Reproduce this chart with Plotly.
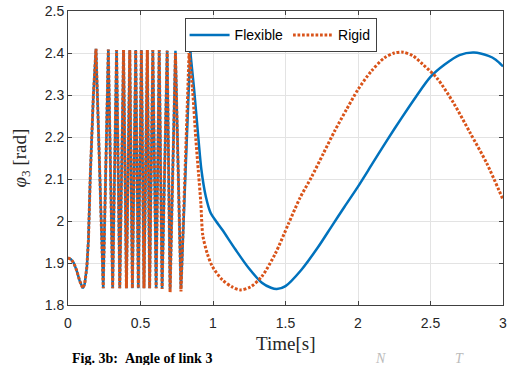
import plotly.graph_objects as go

# ---- data ----
flex_osc_t = [0.0, 0.02, 0.04, 0.06, 0.08, 0.092, 0.102, 0.115, 0.13, 0.141, 0.153, 0.175, 0.193,
              0.243, 0.278, 0.308, 0.335, 0.357, 0.383, 0.403, 0.426, 0.444, 0.467, 0.485, 0.506,
              0.524, 0.547, 0.563, 0.585, 0.608, 0.629, 0.649, 0.684, 0.704, 0.741, 0.779, 0.843]
flex_osc_v = [1.912, 1.909, 1.900, 1.882, 1.858, 1.845, 1.840, 1.850, 1.890, 1.955, 2.100, 2.300, 2.410,
              1.840, 2.408, 1.840, 2.407, 1.840, 2.407, 1.840, 2.407, 1.840, 2.407, 1.840, 2.407,
              1.840, 2.407, 1.840, 2.407, 1.840, 2.407, 1.840, 2.406, 1.838, 2.405, 1.838, 2.405]

flex_tail_t = [0.843, 0.870, 0.900, 0.920, 0.950, 0.984, 1.020, 1.064, 1.155, 1.246, 1.337, 1.400,
               1.440, 1.500, 1.610, 1.725, 1.816, 1.907, 2.000, 2.100, 2.200, 2.300, 2.400,
               2.500, 2.600, 2.700, 2.800, 2.900, 2.950, 3.000]
flex_tail_v = [2.405, 2.312, 2.194, 2.122, 2.059, 2.019, 2.000, 1.979, 1.932, 1.888, 1.853, 1.841,
               1.838, 1.845, 1.884, 1.938, 1.986, 2.034, 2.082, 2.137, 2.192, 2.245, 2.296,
               2.343, 2.373, 2.395, 2.401, 2.393, 2.384, 2.368]

rigid_osc_t = [0.0, 0.02, 0.04, 0.06, 0.08, 0.092, 0.102, 0.115, 0.13, 0.141, 0.153, 0.175, 0.193,
               0.243, 0.278, 0.308, 0.335, 0.357, 0.383, 0.403, 0.426, 0.444, 0.467, 0.485, 0.506,
               0.524, 0.547, 0.563, 0.585, 0.608, 0.629, 0.649, 0.684, 0.704, 0.741, 0.779, 0.835]
rigid_osc_v = [1.912, 1.909, 1.900, 1.882, 1.858, 1.845, 1.840, 1.850, 1.890, 1.955, 2.100, 2.300, 2.410,
               1.840, 2.408, 1.840, 2.407, 1.840, 2.407, 1.840, 2.407, 1.840, 2.407, 1.840, 2.407,
               1.840, 2.407, 1.840, 2.407, 1.840, 2.407, 1.838, 2.405, 1.830, 2.400, 1.832, 2.400]

rigid_tail_t = [0.835, 0.859, 0.882, 0.900, 0.916, 0.930, 0.961, 0.995, 1.064, 1.132, 1.189, 1.258,
                1.337, 1.429, 1.520, 1.600, 1.680, 1.760, 1.840, 1.920, 2.000, 2.090, 2.180, 2.250,
                2.310, 2.380, 2.450, 2.545, 2.659, 2.773, 2.887, 3.000]
rigid_tail_v = [2.400, 2.312, 2.194, 2.114, 2.043, 1.965, 1.922, 1.892, 1.860, 1.843, 1.836, 1.843,
                1.868, 1.922, 1.993, 2.055, 2.105, 2.160, 2.215, 2.265, 2.313, 2.356, 2.388, 2.400,
                2.402, 2.393, 2.372, 2.340, 2.281, 2.210, 2.138, 2.051]

x_ticks = [0, 0.5, 1, 1.5, 2, 2.5, 3]
x_tick_text = ["0", "0.5", "1", "1.5", "2", "2.5", "3"]
y_ticks = [1.8, 1.9, 2.0, 2.1, 2.2, 2.3, 2.4, 2.5]
y_tick_text = ["1.8", "1.9", "2", "2.1", "2.2", "2.3", "2.4", "2.5"]

BLUE = "#0072BD"
ORANGE = "#D95319"
SERIF = "Liberation Serif, Times New Roman"
SANS = "Liberation Sans, Arial"

fig = go.Figure()
fig.add_trace(go.Scatter(x=flex_osc_t, y=flex_osc_v, mode="lines", name="Flexible",
                         legendgroup="f", line=dict(color=BLUE, width=2.5)))
fig.add_trace(go.Scatter(x=flex_tail_t, y=flex_tail_v, mode="lines", name="Flexible",
                         legendgroup="f", showlegend=False,
                         line=dict(color=BLUE, width=2.5, shape="spline", smoothing=0.8)))
fig.add_trace(go.Scatter(x=rigid_osc_t, y=rigid_osc_v, mode="lines", name="Rigid",
                         legendgroup="r", line=dict(color=ORANGE, width=3, dash="2.7px,1.8px")))
fig.add_trace(go.Scatter(x=rigid_tail_t, y=rigid_tail_v, mode="lines", name="Rigid",
                         legendgroup="r", showlegend=False,
                         line=dict(color=ORANGE, width=3, dash="2.7px,1.8px",
                                   shape="spline", smoothing=0.8)))

axis_common = dict(showline=True, linecolor="#404040", linewidth=1, mirror="ticks",
                   ticks="inside", ticklen=4, tickcolor="#404040",
                   showgrid=True, gridcolor="#E3E3E3", gridwidth=1, zeroline=False,
                   ticklabeloverflow="allow",
                   tickfont=dict(family=SANS, size=14, color="#262626"))

fig.update_xaxes(range=[0, 3], tickvals=x_ticks, ticktext=x_tick_text,
                 ticklabelstandoff=5, **axis_common)
fig.update_yaxes(range=[1.8, 2.5], tickvals=y_ticks, ticktext=y_tick_text, **axis_common)

fig.update_layout(
    width=510, height=365,
    margin=dict(l=68, r=3, t=11, b=60),
    paper_bgcolor="white", plot_bgcolor="white",
    showlegend=True,
    legend=dict(orientation="h", x=0.268, y=0.975, xanchor="left", yanchor="top",
                bgcolor="white", bordercolor="#404040", borderwidth=1,
                font=dict(family=SANS, size=14, color="#000000"),
                itemwidth=40, tracegroupgap=0),
    annotations=[
        dict(text="Time[s]", xref="paper", yref="paper", x=0.5, y=-0.131,
             xanchor="center", yanchor="middle", showarrow=False,
             font=dict(family=SERIF, size=19, color="#262626")),
        dict(text="<i>φ</i><sub>3</sub> [rad]", xref="paper", yref="paper", x=-0.109, y=0.5,
             xanchor="center", yanchor="middle", textangle=-90, showarrow=False,
             font=dict(family=SERIF, size=19, color="#262626")),
        dict(text="<b>Fig. 3b:</b>  <b>Angle of link 3</b>", xref="paper", yref="paper",
             x=0.004, y=-0.148, xanchor="left", yanchor="top", showarrow=False,
             font=dict(family=SERIF, size=14, color="#000000")),
        dict(text="<i>N</i>", xref="paper", yref="paper",
             x=0.70, y=-0.148, xanchor="left", yanchor="top", showarrow=False,
             font=dict(family=SERIF, size=14, color="#BBBBBB")),
        dict(text="<i>T</i>", xref="paper", yref="paper",
             x=0.885, y=-0.148, xanchor="left", yanchor="top", showarrow=False,
             font=dict(family=SERIF, size=14, color="#BBBBBB")),
    ],
)

fig.write_html("out.html")
